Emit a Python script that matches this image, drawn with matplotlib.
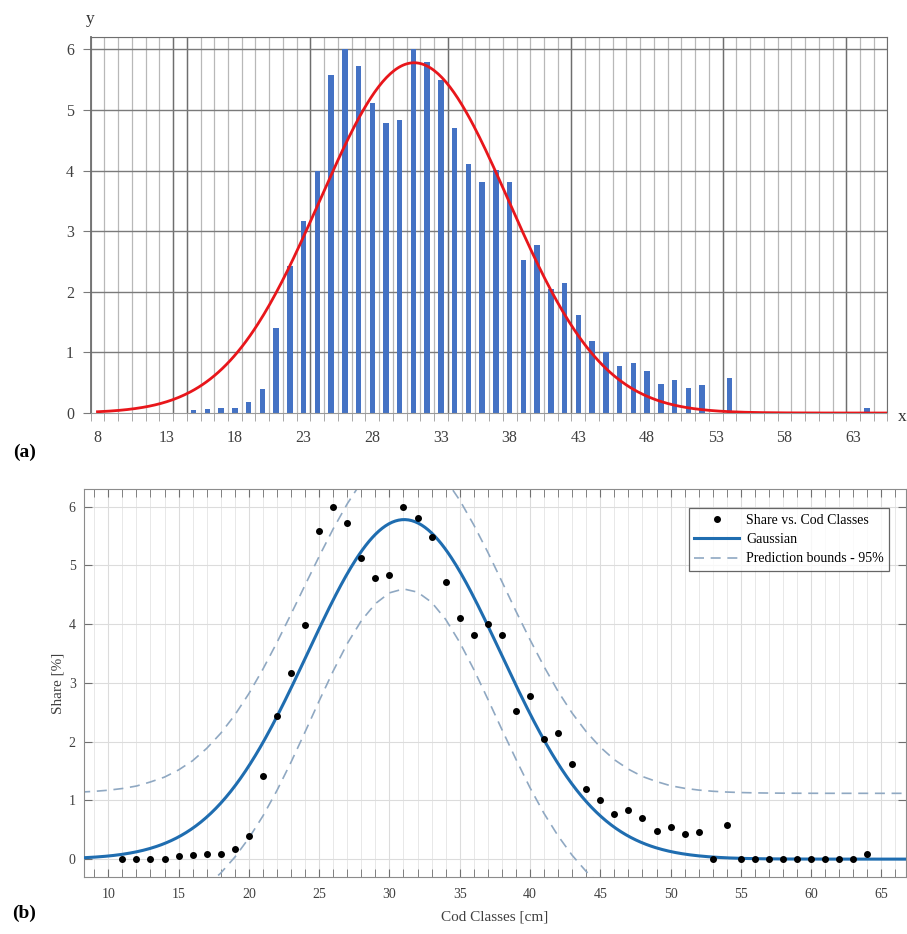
import numpy as np
import matplotlib.pyplot as plt

plt.rcParams['font.family'] = ['Liberation Serif', 'DejaVu Serif']

# Cod length classes [cm] and share [%] per class
classes = np.arange(11, 65)
share = [0, 0, 0, 0, 0.05, 0.07, 0.08, 0.09, 0.18, 0.39,
         1.41, 2.43, 3.17, 3.99, 5.58, 6.0, 5.72, 5.12, 4.78, 4.83,
         6.0, 5.8, 5.49, 4.71, 4.11, 3.81, 4.01, 3.81, 2.52, 2.77,
         2.04, 2.15, 1.62, 1.19, 1.0, 0.77, 0.83, 0.70, 0.48, 0.54,
         0.42, 0.46, 0, 0.58, 0, 0, 0, 0, 0, 0,
         0, 0, 0, 0.08]

# Gaussian fit coefficients (a * exp(-((x-b)/c)^2))
gauss_a, gauss_b, gauss_c = 5.78, 31.05, 9.72

# half width of the 95% prediction bounds at integer classes 8..67
bound_x = np.arange(8, 68)
bound_half = [1.12, 1.12, 1.12, 1.12, 1.12, 1.13, 1.13, 1.14, 1.15, 1.17,
              1.19, 1.21, 1.23, 1.25, 1.26, 1.26, 1.25, 1.23, 1.21, 1.19,
              1.18, 1.18, 1.18, 1.18, 1.18, 1.18, 1.19, 1.21, 1.23, 1.25,
              1.26, 1.26, 1.26, 1.25, 1.23, 1.21, 1.19, 1.17, 1.15, 1.14,
              1.13, 1.13, 1.12, 1.12, 1.12, 1.12, 1.12, 1.12, 1.12, 1.12,
              1.12, 1.12, 1.12, 1.12, 1.12, 1.12, 1.12, 1.12, 1.12, 1.12]

top_ticks = list(range(8, 64, 5))
dark_bounds = [13.5, 14.5, 23.5, 33.5, 42.5, 53.5, 62.5]


def gauss(x):
    return gauss_a * np.exp(-((x - gauss_b) / gauss_c) ** 2)


fig = plt.figure(figsize=(9.07, 9.34), dpi=100)

# ---------------- (a) bar chart with fitted curve ----------------
ax1 = fig.add_axes([0.0999, 0.5578, 0.8786, 0.4029])
ax1.set_xlim(7.5, 65.5)
ax1.set_ylim(0, 6.21)

for b in np.arange(7.5, 66, 1.0):
    ax1.axvline(b, color='#b8b8b8', lw=0.9, zorder=0)
for b in dark_bounds:
    ax1.axvline(b, color='#6e6e6e', lw=1.0, zorder=0)
for yv in range(1, 7):
    ax1.axhline(yv, color='#7a7a7a', lw=1.0, zorder=0)
ax1.axhline(6.21, color='#6e6e6e', lw=1.5, zorder=0)

ax1.bar(classes, share, width=0.4, color='#4472C4', zorder=2)
xs = np.linspace(8, 65.5, 400)
ax1.plot(xs, gauss(xs), color='#e8161b', lw=2.0, zorder=3)

for s in ['top', 'right']:
    ax1.spines[s].set_color('#6e6e6e')
ax1.spines['left'].set_color('#6e6e6e')
ax1.spines['bottom'].set_color('#9a9a9a')
ax1.spines['left'].set_linewidth(1.3)

ax1.set_yticks(range(0, 7))
ax1.set_xticks(top_ticks)
ax1.set_xticks(np.arange(7.5, 66, 1.0), minor=True)
ax1.tick_params(axis='x', which='major', length=0, pad=12, labelsize=11.5, labelcolor='#404040')
ax1.tick_params(axis='x', which='minor', length=6, color='#9a9a9a', direction='out')
ax1.tick_params(axis='y', length=6, color='#7a7a7a', pad=6, labelsize=11.5, labelcolor='#404040')

fig.text(90 / 907, 1 - 19 / 934, 'y', fontsize=12.5, ha='center', va='center', color='#303030')
fig.text(902 / 907, 1 - 417 / 934, 'x', fontsize=12.5, ha='center', va='center', color='#303030')
fig.text(13 / 907, 1 - 452 / 934, '(a)', fontsize=14, fontweight='bold', ha='left', va='center')

# ---------------- (b) Gaussian fit with prediction bounds ----------------
ax2 = fig.add_axes([0.0926, 0.0613, 0.9063, 0.4151])
ax2.set_xlim(8.27, 66.75)
ax2.set_ylim(-0.3, 6.3)

ax2.set_xticks(range(10, 66, 5))
ax2.set_xticks(range(9, 67), minor=True)
ax2.set_yticks(range(0, 7))
ax2.grid(which='major', color='#dcdcdc', lw=0.8)
ax2.grid(which='minor', axis='x', color='#e8e8e8', lw=0.7)
ax2.set_axisbelow(True)

bx = bound_x.astype(float)
upper = gauss(bx) + np.array(bound_half)
lower = gauss(bx) - np.array(bound_half)

ax2.plot(classes, share, 'o', color='black', ms=4, label='Share vs. Cod Classes', zorder=4)
xs2 = np.linspace(8.27, 66.75, 500)
ax2.plot(xs2, gauss(xs2), color='#1f6db0', lw=2.2, label='Gaussian', zorder=3)
ax2.plot(bx, upper, '--', color='#8fa8c2', lw=1.2, dashes=(6, 4),
         label='Prediction bounds - 95%', zorder=2)
ax2.plot(bx, lower, '--', color='#8fa8c2', lw=1.2, dashes=(6, 4), zorder=2)

for s in ax2.spines.values():
    s.set_color('#8c8c8c')
ax2.tick_params(which='both', direction='in', top=True, right=True, color='#707070',
                labelsize=10, labelcolor='#404040')
ax2.tick_params(which='major', length=6)
ax2.tick_params(which='minor', length=6)
ax2.tick_params(axis='x', which='major', pad=8)
ax2.tick_params(axis='y', which='major', pad=6)

ax2.set_xlabel('Cod Classes [cm]', fontsize=11, color='#404040', labelpad=7)
ax2.set_ylabel('Share [%]', fontsize=11, color='#404040', labelpad=3)

leg = ax2.legend(loc='upper right', bbox_to_anchor=(0.988, 0.968), fontsize=10,
                 handlelength=3.2, frameon=True, fancybox=False, borderpad=0.4,
                 labelspacing=0.45, handletextpad=0.5)
leg.get_frame().set_edgecolor('#404040')
leg.get_frame().set_linewidth(0.9)

fig.text(12 / 907, 1 - 913 / 934, '(b)', fontsize=14, fontweight='bold', ha='left', va='center')

fig.savefig('out.png', dpi=100)
